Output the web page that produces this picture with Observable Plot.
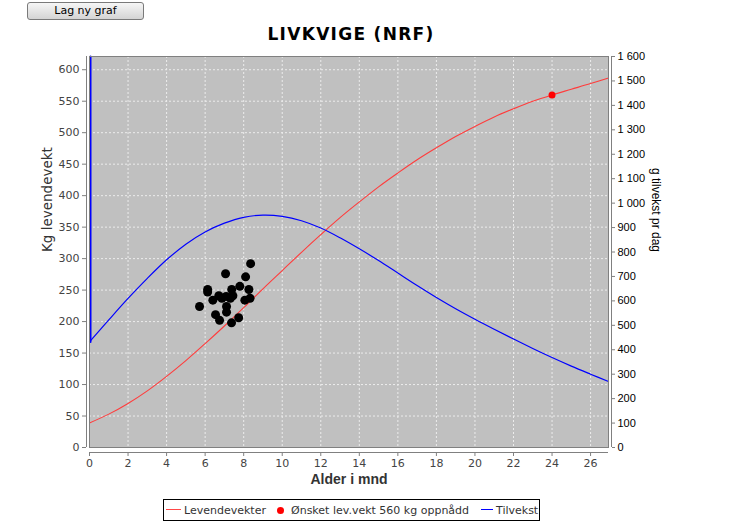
<!DOCTYPE html>
<html><head><meta charset="utf-8">
<script src="https://cdn.jsdelivr.net/npm/d3@7"></script>
<script src="https://cdn.jsdelivr.net/npm/@observablehq/plot@0.6"></script>
<style>
body{margin:0;background:#fff;}
#wrap{position:relative;width:751px;height:526px;overflow:hidden;font-family:"DejaVu Sans",sans-serif;}
#chart{position:absolute;left:0;top:0;}
#btn{position:absolute;left:27px;top:2px;width:115px;height:16px;border:1px solid #7a7a7a;border-radius:3px;background:linear-gradient(#f6f6f6,#d4d4d4);font:11px "DejaVu Sans";color:#000;text-align:center;line-height:16px;}
#title{position:absolute;left:0;width:702px;top:24px;line-height:20px;text-align:center;font:bold 17px "DejaVu Sans";letter-spacing:1.3px;color:#000;}
#legend{position:absolute;left:163px;top:499px;width:375px;height:20px;border:1px solid #000;font:11px "DejaVu Sans";color:#333;}
#legend span{position:absolute;top:0;line-height:21px;white-space:nowrap;}
#legend i{position:absolute;display:block;}
</style>
</head><body>
<div id="wrap">
  <div id="btn">Lag ny graf</div>
  <div id="chart"></div>
  <div id="title">LIVKVIGE (NRF)</div>
  <div id="legend">
    <i style="left:2px;top:9px;width:15px;height:1px;background:#ff4848"></i>
    <span style="left:20px">Levendevekter</span>
    <i style="left:113px;top:7px;width:7px;height:7px;border-radius:50%;background:#ff0000"></i>
    <span style="left:127px">Ønsket lev.vekt 560 kg oppnådd</span>
    <i style="left:317px;top:9px;width:12px;height:1px;background:#0000ff"></i>
    <span style="left:332px">Tilvekst</span>
  </div>
</div>
<script>
// Age ticks (months), weight ticks (kg), daily gain ticks (g/day)
const xTicks = [0, 2, 4, 6, 8, 10, 12, 14, 16, 18, 20, 22, 24, 26];
const leftTicks = [0, 50, 100, 150, 200, 250, 300, 350, 400, 450, 500, 550, 600];
const rightTicks = [0, 100, 200, 300, 400, 500, 600, 700, 800, 900, 1000, 1100, 1200, 1300, 1400, 1500, 1600];

// Levendevekter (kg) by age in months
const redMonths = [0, 1, 2, 3, 4, 5, 6, 7, 8, 9, 10, 11, 12, 13, 14, 15, 16, 17, 18, 19, 20, 21, 22, 23, 24, 25, 26, 26.93];
const redKg = [39, 53, 70, 90, 113, 138, 165, 193, 222, 252, 281, 310, 338, 365, 390, 414, 436, 457, 476, 494, 510, 525, 538, 550, 560, 569, 578, 587];

// Tilvekst (g per day) by age in months (first value: off the top of the chart)
const blueMonths = [0, 0, 1, 2, 3, 4, 5, 6, 7, 8, 9, 10, 11, 12, 13, 14, 15, 16, 17, 18, 19, 20, 21, 22, 23, 24, 25, 26, 26.93];
const blueGain = [1600, 432, 522, 610, 692, 768, 832, 882, 918, 942, 951, 946, 928, 898, 858, 813, 765, 714, 663, 614, 568, 525, 484, 444, 405, 368, 333, 300, 270];

// Individual animals: age (months), weight (kg)
const pointMonths = [8.36, 7.06, 8.10, 7.80, 6.13, 7.38, 8.27, 6.13, 6.71, 7.09, 7.44, 6.87, 7.31, 6.40, 8.06, 8.33, 5.71, 7.11, 6.54, 7.11, 7.74, 6.75, 7.37];
const pointKg = [292, 276, 271, 256, 251, 251, 251, 247, 241, 240, 241, 237, 237, 234, 234, 237, 224, 224, 211, 215, 206, 202, 198];

// Target point
const targetMonth = [24];
const targetKg = [560];

const xMax = 26.93, yMax = 621, gainMax = 1600;
const K = gainMax / yMax;

const red = redMonths.map((m, i) => ({m, v: redKg[i]}));
const blue = blueMonths.map((m, i) => ({m, g: blueGain[i]}));
const pts = pointMonths.map((m, i) => ({m, v: pointKg[i]}));
const target = targetMonth.map((m, i) => ({m, v: targetKg[i]}));

const nb = d3.formatLocale({decimal: ",", thousands: "\u00a0", grouping: [3], currency: ["", ""]}).format(",");

const chart = Plot.plot({
  width: 751, height: 495,
  marginLeft: 89, marginRight: 143, marginTop: 56, marginBottom: 48,
  x: {domain: [0, xMax]},
  y: {domain: [0, yMax]},
  style: {fontFamily: "DejaVu Sans", fontSize: "11px", background: "transparent", overflow: "visible"},
  marks: [
    Plot.frame({fill: "#c0c0c0"}),
    Plot.gridX(xTicks.filter(d => d > 0), {stroke: "#ececec", strokeOpacity: 1, strokeDasharray: "2,2"}),
    Plot.gridY(leftTicks.filter(d => d > 0), {stroke: "#ececec", strokeOpacity: 1, strokeDasharray: "2,2"}),
    Plot.ruleX([0], {dx: -3, stroke: "#808080"}),
    Plot.ruleY([0], {dy: 5, stroke: "#808080"}),
    Plot.ruleX([xMax], {dx: 3, stroke: "#808080"}),
    Plot.axisX(xTicks, {anchor: "bottom", tickSize: 4, dy: 5, tickPadding: 3, stroke: "#808080", fill: "#444", label: null, fontSize: 11, fontFamily: "DejaVu Sans"}),
    Plot.axisY(leftTicks, {anchor: "left", tickSize: 4, dx: -3, tickPadding: 3, stroke: "#808080", fill: "#444", label: null, fontSize: 11, fontFamily: "DejaVu Sans"}),
    Plot.axisY(rightTicks.map(v => v / K), {anchor: "right", tickSize: 3, dx: 3, tickPadding: 3, stroke: "#808080", fill: "#000", label: null, tickFormat: d => nb(Math.round(d * K)), fontSize: 11, fontFamily: "Liberation Sans"}),
    Plot.line(red, {x: "m", y: "v", stroke: "#ff3c3c", strokeWidth: 1.1, curve: "catmull-rom"}),
    Plot.line(blue.slice(0, 2), {x: "m", y: d => d.g / K, stroke: "#0000ff", strokeWidth: 2, dx: 1}),
    Plot.line(blue.slice(1), {x: "m", y: d => d.g / K, stroke: "#0000ff", strokeWidth: 1.2, curve: "catmull-rom"}),
    Plot.dot(pts, {x: "m", y: "v", r: 4.5, fill: "#000"}),
    Plot.dot(target, {x: "m", y: "v", r: 3.5, fill: "#ff0000"}),
    Plot.frame({stroke: "#808080"}),
    Plot.text(["Kg levendevekt"], {text: d => d, frameAnchor: "left", dx: -42, rotate: -90, fontSize: 13.5, fontFamily: "DejaVu Sans", fill: "#333"}),
    Plot.text(["g tilvekst pr dag"], {text: d => d, frameAnchor: "right", dx: 47, rotate: 90, fontSize: 12, fontFamily: "Liberation Sans", fill: "#000"}),
    Plot.text(["Alder i mnd"], {text: d => d, frameAnchor: "bottom", dy: 36, fontSize: 14, fontWeight: "bold", fontFamily: "Liberation Sans", fill: "#333"})
  ]
});
document.getElementById("chart").appendChild(chart);
</script>
</body></html>
